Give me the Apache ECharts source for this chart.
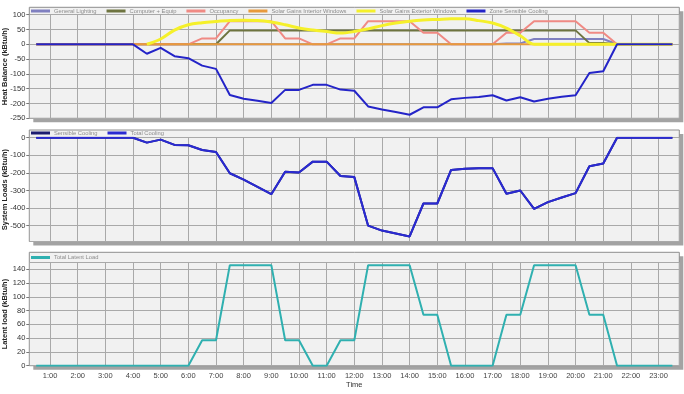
<!DOCTYPE html>
<html>
<head>
<meta charset="utf-8">
<script src="https://cdn.jsdelivr.net/npm/echarts@6/dist/echarts.min.js"></script>
<style>html,body{margin:0;padding:0;background:#fff;}#c{width:684px;height:394px;}</style>
</head>
<body>
<div id="c"></div>
<script>
// ---- data ----
const hours = [0.5,1,1.5,2,2.5,3,3.5,4,4.5,5,5.5,6,6.5,7,7.5,8,8.5,9,9.5,10,10.5,11,11.5,12,12.5,13,13.5,14,14.5,15,15.5,16,16.5,17,17.5,18,18.5,19,19.5,20,20.5,21,21.5,22,22.5,23,23.5];
const generalLighting = [0,0,0,0,0,0,0,0,0,0,0,0,0,0,0,0,0,0,0,0,0,0,0,0,0,0,0,0,0,0,0,0,0,0,3,3,18,18,18,18,18,18,0,0,0,0,0];
const computerEquip   = [0,0,0,0,0,0,0,0,0,0,0,0,0,0,47,47,47,47,47,47,47,47,47,47,47,47,47,47,47,47,47,47,47,47,47,47,47,47,47,47,4,4,0,0,0,0,0];
const occupancy       = [0,0,0,0,0,0,0,0,0,0,0,0,20,20,78,78,78,78,20,20,0,0,20,20,78,78,78,78,39,39,0,0,0,0,39,39,78,78,78,78,39,39,0,0,0,0,0];
const solarInterior   = [0,0,0,0,0,0,0,0,0,0,0,0,0,0,0,0,0,0,0,0,0,0,0,0,0,0,0,0,0,0,0,0,0,0,0,0,0,0,0,0,0,0,0,0,0,0,0];
const solarExterior   = [null,null,null,null,null,null,null,null,0,18,48,66,73,77,80,81,80,75,66,55,48,43,38,43,52,63,72,78,82,84,86,86,80,72,55,29,0,0,0,0,0,0,0,0,0,0,0];
const zoneSensible    = [0,0,0,0,0,0,0,0,-32,-12,-40,-47,-72,-83,-171,-184,-191,-198,-154,-154,-137,-137,-153,-157,-210,-220,-229,-238,-213,-213,-186,-181,-178,-172,-190,-179,-193,-184,-177,-172,-97,-91,0,0,0,0,0];
const sensibleCooling = [0,0,0,0,0,0,0,0,-28,-11,-41,-43,-70,-81,-202,-238,-279,-321,-194,-198,-136,-136,-218,-224,-500,-528,-544,-561,-374,-374,-183,-177,-173,-173,-319,-300,-404,-366,-340,-315,-162,-147,0,0,0,0,0];
const totalCooling    = [0,0,0,0,0,0,0,0,-28,-11,-41,-43,-70,-81,-202,-238,-279,-321,-194,-198,-136,-136,-218,-224,-500,-528,-544,-561,-374,-374,-183,-177,-173,-173,-319,-300,-404,-366,-340,-315,-162,-147,0,0,0,0,0];
const totalLatent     = [0,0,0,0,0,0,0,0,0,0,0,0,37,37,146,146,146,146,37,37,0,0,37,37,146,146,146,146,74,74,0,0,0,0,74,74,146,146,146,146,74,74,0,0,0,0,0];
const xTickHours = [1,2,3,4,5,6,7,8,9,10,11,12,13,14,15,16,17,18,19,20,21,22,23];

// ---- layout ----
const L = 29.3, W = 650;
const panels = [
  {top: 7.3,   dataTop: 14.7,  bottom: 118.3, legendTop: 8},
  {top: 130,   dataTop: 137.7, bottom: 241.5, legendTop: 130},
  {top: 252.3, dataTop: 262.4, bottom: 365.7, legendTop: 254.5}
];
const FONT = 'Liberation Sans';
const gridColor = '#a9a9a9';

const toPts = arr => hours.map((h, i) => [h, arr[i]]);

function line(name, arr, color, idx, width, extra) {
  return Object.assign({
    name, type: 'line', xAxisIndex: idx, yAxisIndex: idx,
    data: toPts(arr), showSymbol: false, symbol: 'none',
    color: color, itemStyle: {color},
    lineStyle: {color, width: width || 2}, animation: false
  }, extra || {});
}

const graphics = [];
panels.forEach(p => {
  graphics.push({type: 'rect', z: -10, shape: {x: L + 4, y: p.top + 4, width: W, height: p.bottom - p.top}, style: {fill: '#a3a3a3'}});
  graphics.push({type: 'rect', z: -9, shape: {x: L, y: p.top, width: W, height: p.bottom - p.top}, style: {fill: '#f1f1f1', stroke: '#8e8e8e', lineWidth: 1}});
});

function xAxis(idx, showLabels) {
  return {
    type: 'value', gridIndex: idx, min: 0.25, max: 23.75, minInterval: 1, maxInterval: 1, splitNumber: 23,
    axisLine: {show: false}, axisTick: {show: false},
    axisLabel: {show: showLabels, fontSize: 7.5, color: '#444', fontFamily: FONT, margin: 6,
      showMinLabel: false, showMaxLabel: false,
      formatter: v => (xTickHours.indexOf(Math.round(v)) >= 0 && Math.abs(v - Math.round(v)) < 1e-6) ? Math.round(v) + ':00' : ''},
    splitLine: {show: true, lineStyle: {color: gridColor, width: 1}},
    name: showLabels ? 'Time' : '', nameLocation: 'middle', nameGap: 15, nameMoveOverlap: false,
    nameTextStyle: {fontSize: 7.5, color: '#333', fontFamily: FONT}
  };
}
function yAxis(idx, name, opts) {
  return Object.assign({
    type: 'value', gridIndex: idx,
    axisLine: {show: false},
    axisTick: {show: true, length: 3, lineStyle: {color: '#777'}},
    axisLabel: {fontSize: 7.5, color: '#333', fontFamily: FONT, margin: 4},
    splitLine: {show: true, lineStyle: {color: gridColor, width: 1}},
    name: name, nameLocation: 'middle', nameGap: 20, nameMoveOverlap: false,
    nameTextStyle: {fontSize: 7.5, color: '#222', fontWeight: 'bold', fontFamily: FONT}
  }, opts);
}
function legend(top, names) {
  return {
    top: top, left: 31, padding: 0, itemGap: 10, itemWidth: 19, itemHeight: 3, icon: 'rect',
    selectedMode: false, data: names,
    textStyle: {fontSize: 5.8, color: '#8c8c8c', fontFamily: FONT, padding: [0, 0, 0, -1]}
  };
}

const option = {
  animation: false,
  textStyle: {fontFamily: FONT},
  graphic: graphics,
  grid: panels.map(p => ({left: L, top: p.dataTop, width: W, height: p.bottom - p.dataTop, containLabel: false, outerBoundsMode: 'none', show: false})),
  xAxis: [xAxis(0, false), xAxis(1, false), xAxis(2, true)],
  yAxis: [
    yAxis(0, 'Heat Balance (kBtu/h)', {min: -250, max: 100, interval: 50}),
    yAxis(1, 'System Loads (kBtu/h)', {min: -590, max: 0, minInterval: 100, maxInterval: 100, splitNumber: 5,
      axisLabel: {fontSize: 7.5, color: '#333', fontFamily: FONT, margin: 4, showMinLabel: false}}),
    yAxis(2, 'Latent load (kBtu/h)', {min: 0, max: 150, interval: 20,
      axisLabel: {fontSize: 7.5, color: '#333', fontFamily: FONT, margin: 4, showMaxLabel: false}})
  ],
  legend: [
    legend(panels[0].legendTop, ['General Lighting', 'Computer + Equip', 'Occupancy', 'Solar Gains Interior Windows', 'Solar Gains Exterior Windows', 'Zone Sensible Cooling']),
    legend(panels[1].legendTop, ['Sensible Cooling', 'Total Cooling']),
    legend(panels[2].legendTop, ['Total Latent Load'])
  ],
  series: [
    line('General Lighting', generalLighting, '#8080c0', 0, 2),
    line('Computer + Equip', computerEquip, '#6e7440', 0, 2),
    line('Occupancy', occupancy, '#f08a84', 0, 2),
    line('Solar Gains Interior Windows', solarInterior, '#e89a3c', 0, 2),
    line('Solar Gains Exterior Windows', solarExterior, '#f5f02a', 0, 3, {smooth: 0.35}),
    line('Zone Sensible Cooling', zoneSensible, '#2424c8', 0, 2),
    line('Sensible Cooling', sensibleCooling, '#1c1c70', 1, 2),
    line('Total Cooling', totalCooling, '#2a2ad2', 1, 2),
    line('Total Latent Load', totalLatent, '#2fb0b0', 2, 2)
  ]
};

const chart = echarts.init(document.getElementById('c'), null, {renderer: 'canvas'});
chart.setOption(option);
</script>
</body>
</html>
